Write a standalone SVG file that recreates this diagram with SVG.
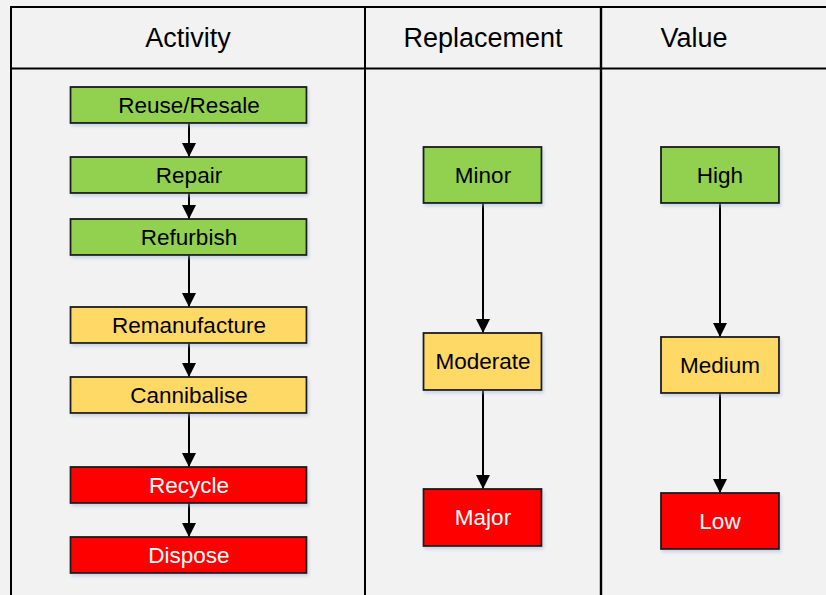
<svg xmlns="http://www.w3.org/2000/svg" width="826" height="595" viewBox="0 0 826 595">
<defs>
<marker id="arr" markerUnits="userSpaceOnUse" markerWidth="14" markerHeight="14" refX="14" refY="7" orient="auto">
<path d="M0,0 L14,7 L0,14 z" fill="#000"/>
</marker>
<filter id="sh" x="-10%" y="-10%" width="130%" height="140%">
<feDropShadow dx="1.5" dy="2.5" stdDeviation="1.5" flood-color="#9db3d9" flood-opacity="0.45"/>
</filter>
</defs>
<style>
.bg{fill:#f2f2f2}
.grid{stroke:#000;stroke-width:2;fill:none}
.hd{font-family:"Liberation Sans",Arial,sans-serif;font-size:27px;fill:#000;text-anchor:middle}
.box{stroke:#1a1a1a;stroke-width:1.8;filter:url(#sh)}
.g{fill:#92d050}
.y{fill:#ffd966}
.r{fill:#ff0000}
.t{font-family:"Liberation Sans",Arial,sans-serif;font-size:22.5px;fill:#000;text-anchor:middle}
.tw{fill:#fff}
.c{stroke:#000;stroke-width:2;fill:none;marker-end:url(#arr)}
</style>
<rect class="bg" x="0" y="0" width="826" height="595"/>
<g id="table">
<path class="grid" d="M11,600 V7 H830"/>
<path class="grid" d="M11,68.5 H830"/>
<path class="grid" d="M365,7 V600"/>
<path class="grid" d="M601,7 V600" style="stroke-width:2.4"/>
<text class="hd" x="188" y="47">Activity</text>
<text class="hd" x="483" y="47">Replacement</text>
<text class="hd" x="694" y="47">Value</text>
</g>
<g id="connectors">
<line class="c" x1="189" y1="123" x2="189" y2="157"/>
<line class="c" x1="189" y1="193" x2="189" y2="219"/>
<line class="c" x1="189" y1="255" x2="189" y2="307"/>
<line class="c" x1="189" y1="343" x2="189" y2="377"/>
<line class="c" x1="189" y1="413" x2="189" y2="467"/>
<line class="c" x1="189" y1="503" x2="189" y2="537"/>
<line class="c" x1="483" y1="203" x2="483" y2="333"/>
<line class="c" x1="483" y1="390" x2="483" y2="489"/>
<line class="c" x1="720" y1="203" x2="720" y2="337"/>
<line class="c" x1="720" y1="393" x2="720" y2="493"/>
</g>
<g id="reuse"><rect class="box g" x="70.5" y="87" width="236" height="36"/><text class="t" x="189" y="113">Reuse/Resale</text></g>
<g id="repair"><rect class="box g" x="70.5" y="157" width="236" height="36"/><text class="t" x="189" y="183">Repair</text></g>
<g id="refurbish"><rect class="box g" x="70.5" y="219" width="236" height="36"/><text class="t" x="189" y="245">Refurbish</text></g>
<g id="remanufacture"><rect class="box y" x="70.5" y="307" width="236" height="36"/><text class="t" x="189" y="333">Remanufacture</text></g>
<g id="cannibalise"><rect class="box y" x="70.5" y="377" width="236" height="36"/><text class="t" x="189" y="403">Cannibalise</text></g>
<g id="recycle"><rect class="box r" x="70.5" y="467" width="236" height="36"/><text class="t tw" x="189" y="493">Recycle</text></g>
<g id="dispose"><rect class="box r" x="70.5" y="537" width="236" height="36"/><text class="t tw" x="189" y="563">Dispose</text></g>
<g id="minor"><rect class="box g" x="423.5" y="147" width="118" height="56"/><text class="t" x="483" y="183">Minor</text></g>
<g id="moderate"><rect class="box y" x="423.5" y="333" width="118" height="57"/><text class="t" x="483" y="369">Moderate</text></g>
<g id="major"><rect class="box r" x="423.5" y="489" width="118" height="57"/><text class="t tw" x="483" y="525">Major</text></g>
<g id="high"><rect class="box g" x="661" y="147" width="118" height="56"/><text class="t" x="720" y="183">High</text></g>
<g id="medium"><rect class="box y" x="661" y="337" width="118" height="56"/><text class="t" x="720" y="373">Medium</text></g>
<g id="low"><rect class="box r" x="661" y="493" width="118" height="56"/><text class="t tw" x="720" y="529">Low</text></g>
</svg>
